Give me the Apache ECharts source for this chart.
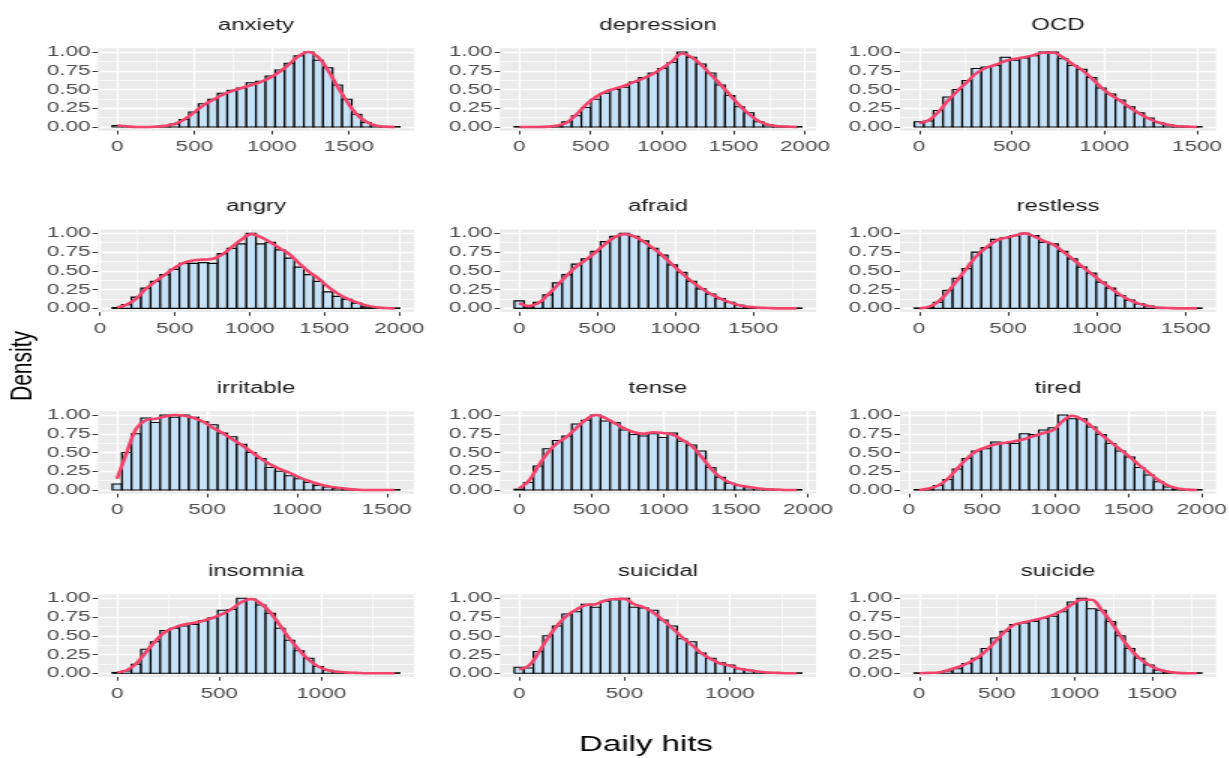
<!DOCTYPE html>
<html>
<head>
<meta charset="utf-8">
<script src="https://cdn.jsdelivr.net/npm/echarts@6/dist/echarts.min.js"></script>
<style>
  html, body { margin: 0; padding: 0; background: #fff; overflow: hidden; }
  #main { height: 758px; transform-origin: 0 0; }
</style>
</head>
<body>
<div id="main"></div>
<script>
// facet names, in reading order
const panels = ['anxiety', 'depression', 'OCD', 'angry', 'afraid', 'restless',
                'irritable', 'tense', 'tired', 'insomnia', 'suicidal', 'suicide'];

// centre of first bin and bin width (30 bins per facet)
const binStart = [0, 0, 0, 115, 0, 0, 0, 0, 70, 0, 0, 0];
const binWidth = [62, 67, 51.7, 64, 61.4, 53.9, 53.3, 66.3, 65.4, 46.9, 45.5, 61.7];

// x tick labels per facet
const xTicks = [
  [0, 500, 1000, 1500], [0, 500, 1000, 1500, 2000], [0, 500, 1000, 1500],
  [0, 500, 1000, 1500, 2000], [0, 500, 1000, 1500], [0, 500, 1000, 1500],
  [0, 500, 1000, 1500], [0, 500, 1000, 1500, 2000], [0, 500, 1000, 1500, 2000],
  [0, 500, 1000], [0, 500, 1000], [0, 500, 1000, 1500]
];
const yTicks = [0, 0.25, 0.5, 0.75, 1];

// scaled histogram heights
const anxietyHist = [0.02,0,0,0,0,0.01,0.04,0.1,0.2,0.31,0.37,0.45,0.49,0.52,0.59,0.61,0.68,0.76,0.85,0.95,1.0,0.89,0.79,0.56,0.37,0.17,0.06,0.02,0.005,0.005];
const depressionHist = [0.005,0,0,0,0.01,0.07,0.15,0.26,0.37,0.45,0.5,0.53,0.6,0.66,0.72,0.78,0.86,1.0,0.93,0.84,0.72,0.56,0.42,0.27,0.19,0.07,0.03,0.01,0.005,0.005];
const ocdHist = [0.07,0.08,0.22,0.4,0.5,0.62,0.78,0.8,0.82,0.93,0.89,0.92,0.95,1.0,1.0,0.91,0.82,0.77,0.66,0.52,0.44,0.36,0.27,0.19,0.12,0.06,0.03,0.01,0.005,0.005];
const angryHist = [0.01,0.05,0.15,0.27,0.36,0.45,0.52,0.6,0.6,0.61,0.6,0.73,0.8,0.86,1.0,0.86,0.88,0.78,0.67,0.55,0.45,0.36,0.22,0.16,0.12,0.07,0.02,0.01,0.005,0.005];
const afraidHist = [0.1,0.02,0.08,0.18,0.34,0.45,0.59,0.66,0.76,0.89,0.96,1.0,0.96,0.9,0.8,0.71,0.58,0.48,0.36,0.26,0.19,0.13,0.08,0.04,0.02,0.01,0.005,0.003,0.002,0.005];
const restlessHist = [0.005,0.01,0.08,0.24,0.4,0.53,0.75,0.81,0.92,0.94,0.97,1.0,0.97,0.88,0.86,0.76,0.66,0.55,0.47,0.35,0.27,0.17,0.11,0.06,0.03,0.01,0.005,0.003,0.002,0.005];
const irritableHist = [0.08,0.5,0.75,0.96,0.9,1.0,0.97,1.0,0.97,0.91,0.87,0.76,0.71,0.61,0.5,0.42,0.3,0.25,0.19,0.15,0.1,0.06,0.04,0.02,0.01,0.005,0.003,0.002,0.002,0.005];
const tenseHist = [0.01,0.1,0.32,0.55,0.66,0.72,0.88,0.93,1.0,0.92,0.9,0.8,0.74,0.72,0.75,0.7,0.76,0.65,0.6,0.52,0.3,0.17,0.09,0.06,0.03,0.02,0.01,0.005,0.003,0.005];
const tiredHist = [0.005,0.01,0.06,0.14,0.28,0.42,0.52,0.55,0.64,0.62,0.62,0.75,0.74,0.8,0.83,1.0,0.95,0.95,0.84,0.74,0.62,0.52,0.44,0.3,0.2,0.11,0.04,0.01,0.005,0.005];
const insomniaHist = [0.01,0.03,0.12,0.32,0.42,0.57,0.6,0.63,0.65,0.7,0.74,0.84,0.85,1.0,0.99,0.91,0.8,0.6,0.44,0.3,0.2,0.09,0.04,0.02,0.01,0.005,0.003,0.002,0.002,0.005];
const suicidalHist = [0.08,0.07,0.29,0.5,0.63,0.79,0.82,0.92,0.88,0.96,0.98,1.0,0.88,0.87,0.84,0.71,0.63,0.46,0.42,0.27,0.2,0.14,0.11,0.06,0.04,0.02,0.01,0.005,0.003,0.005];
const suicideHist = [0.005,0,0,0.03,0.06,0.13,0.2,0.33,0.47,0.56,0.65,0.67,0.69,0.73,0.76,0.82,0.95,1.0,0.86,0.84,0.69,0.5,0.33,0.2,0.11,0.04,0.01,0.005,0.003,0.005];

// scaled density at the bin centres
const anxietyDens = [0.02,0.01,0,0,0.005,0.015,0.04,0.1,0.19,0.29,0.36,0.43,0.48,0.52,0.56,0.6,0.66,0.74,0.84,0.95,1.0,0.93,0.76,0.54,0.34,0.17,0.07,0.02,0.005,0];
const depressionDens = [0,0,0,0.005,0.02,0.06,0.17,0.3,0.4,0.47,0.51,0.55,0.6,0.65,0.71,0.79,0.88,0.98,0.93,0.83,0.7,0.57,0.43,0.29,0.17,0.08,0.03,0.01,0.005,0];
const ocdDens = [0.05,0.09,0.2,0.35,0.48,0.6,0.72,0.79,0.83,0.88,0.91,0.93,0.96,0.99,0.99,0.93,0.84,0.76,0.65,0.53,0.43,0.35,0.26,0.18,0.11,0.06,0.03,0.01,0.005,0];
const angryDens = [0.01,0.05,0.13,0.26,0.36,0.45,0.54,0.61,0.64,0.65,0.66,0.72,0.82,0.92,0.99,0.95,0.88,0.8,0.72,0.6,0.49,0.4,0.29,0.2,0.13,0.08,0.04,0.015,0.005,0];
const afraidDens = [0.07,0.03,0.07,0.18,0.31,0.44,0.56,0.65,0.75,0.86,0.95,0.99,0.96,0.89,0.8,0.7,0.58,0.47,0.36,0.27,0.19,0.13,0.08,0.04,0.02,0.01,0.005,0,0,0];
const restlessDens = [0,0.02,0.09,0.22,0.38,0.54,0.7,0.81,0.9,0.94,0.97,1.0,0.96,0.9,0.85,0.76,0.66,0.56,0.46,0.36,0.27,0.18,0.11,0.06,0.03,0.01,0.005,0,0,0];
const irritableDens = [0.15,0.5,0.82,0.93,0.95,0.98,1.0,0.99,0.96,0.91,0.83,0.76,0.68,0.6,0.51,0.42,0.34,0.28,0.23,0.17,0.12,0.08,0.05,0.03,0.015,0.005,0,0,0,0];
const tenseDens = [0.02,0.12,0.32,0.5,0.63,0.71,0.83,0.94,1.0,0.96,0.89,0.82,0.77,0.75,0.77,0.76,0.74,0.67,0.59,0.45,0.29,0.17,0.1,0.06,0.04,0.02,0.01,0.005,0,0];
const tiredDens = [0,0.02,0.06,0.15,0.29,0.42,0.52,0.57,0.61,0.63,0.65,0.68,0.72,0.76,0.8,0.92,0.99,0.94,0.85,0.74,0.64,0.54,0.44,0.33,0.23,0.13,0.06,0.02,0.005,0];
const insomniaDens = [0.01,0.04,0.13,0.28,0.43,0.55,0.61,0.65,0.67,0.7,0.74,0.79,0.86,0.95,0.99,0.93,0.81,0.64,0.46,0.31,0.18,0.09,0.04,0.02,0.01,0.005,0,0,0,0];
const suicidalDens = [0.05,0.1,0.27,0.47,0.64,0.77,0.85,0.91,0.92,0.97,0.99,0.99,0.92,0.88,0.81,0.71,0.6,0.48,0.38,0.27,0.19,0.13,0.1,0.06,0.04,0.02,0.01,0.005,0,0];
const suicideDens = [0,0.005,0.01,0.04,0.08,0.13,0.2,0.3,0.43,0.56,0.65,0.68,0.71,0.74,0.78,0.84,0.92,0.98,0.98,0.85,0.69,0.5,0.33,0.2,0.11,0.05,0.02,0.005,0,0];

const hists = [anxietyHist, depressionHist, ocdHist, angryHist, afraidHist, restlessHist,
               irritableHist, tenseHist, tiredHist, insomniaHist, suicidalHist, suicideHist];
const dens = [anxietyDens, depressionDens, ocdDens, angryDens, afraidDens, restlessDens,
              irritableDens, tenseDens, tiredDens, insomniaDens, suicidalDens, suicideDens];

// the reference is stretched sideways, so draw narrow and scale the page in x
const S = 1.5;
const W = 1229 / S;
const el = document.getElementById('main');
el.style.width = W + 'px';
el.style.transform = 'scaleX(' + S + ')';

const FONT = '"Liberation Sans", Arial, sans-serif';
const colLeft = [98, 500, 900];
const rowTop = [48.25, 229.6, 411.25, 594.5];
const panelW = 316, panelH = 82.5;

const grid = [], xAxis = [], yAxis = [], series = [], graphic = [];

function renderBar(params, api) {
  const p0 = api.coord([api.value(0), api.value(2)]);
  const p1 = api.coord([api.value(1), 0]);
  return {
    type: 'rect',
    shape: { x: p0[0], y: p0[1], width: p1[0] - p0[0], height: p1[1] - p0[1] },
    style: { fill: '#C6E1F6', stroke: '#000', lineWidth: 1.2 }
  };
}

panels.forEach((name, i) => {
  const col = i % 3, row = Math.floor(i / 3);
  const c0 = binStart[i], w = binWidth[i];
  const lo = c0 - w / 2, hi = c0 + 29.5 * w;
  const pad = (hi - lo) * 0.05;
  const xmin = lo - pad, xmax = hi + pad;
  const ticks = xTicks[i];
  const minor = [];
  ticks.forEach(t => {
    if (t - 250 > xmin) minor.push(t - 250);
  });
  if (ticks[ticks.length - 1] + 250 < xmax) minor.push(ticks[ticks.length - 1] + 250);

  grid.push({
    left: colLeft[col] / S, top: rowTop[row], width: panelW / S, height: panelH,
    show: true, backgroundColor: '#EBEBEB', borderWidth: 0, outerBoundsMode: 'none'
  });

  xAxis.push({
    type: 'value', gridIndex: i, min: xmin, max: xmax, position: 'bottom',
    axisLine: { show: false, onZero: false },
    axisTick: { show: true, length: 3.7, customValues: ticks, lineStyle: { color: '#333', width: 1 } },
    axisLabel: { customValues: ticks, color: '#4D4D4D', fontSize: 15, fontFamily: FONT, margin: 9,
                 formatter: v => String(v) },
    splitLine: { show: true, lineStyle: { color: '#fff', width: 1.3 } }
  });
  xAxis.push({
    type: 'value', gridIndex: i, min: xmin, max: xmax, position: 'bottom',
    axisLine: { show: false, onZero: false },
    axisTick: { show: false, customValues: minor },
    axisLabel: { show: false },
    splitLine: { show: true, lineStyle: { color: '#fff', width: 0.65 } }
  });
  yAxis.push({
    type: 'value', gridIndex: i, min: -0.05, max: 1.05, position: 'left',
    axisLine: { show: false, onZero: false },
    axisTick: { show: true, length: 3.7, customValues: yTicks, lineStyle: { color: '#333', width: 1 } },
    axisLabel: { customValues: yTicks, color: '#4D4D4D', fontSize: 15, fontFamily: FONT, margin: 5,
                 formatter: v => v.toFixed(2) },
    splitLine: { show: true, lineStyle: { color: '#fff', width: 1.3 } }
  });
  yAxis.push({
    type: 'value', gridIndex: i, min: -0.05, max: 1.05, position: 'left',
    axisLine: { show: false, onZero: false },
    axisTick: { show: false, customValues: [0.125, 0.375, 0.625, 0.875] },
    axisLabel: { show: false },
    splitLine: { show: true, lineStyle: { color: '#fff', width: 0.65 } }
  });

  series.push({
    type: 'custom', xAxisIndex: 2 * i, yAxisIndex: 2 * i,
    renderItem: renderBar,
    encode: { x: [0, 1], y: 2 },
    data: hists[i].map((h, k) => [c0 + k * w - w / 2, c0 + k * w + w / 2, h]),
    z: 3
  });
  series.push({
    type: 'line', xAxisIndex: 2 * i, yAxisIndex: 2 * i,
    data: dens[i].map((d, k) => [c0 + k * w, d]),
    smooth: 0.4, symbol: 'none',
    lineStyle: { color: '#F4436C', width: 2.6 },
    z: 5
  });

  graphic.push({
    type: 'text', x: (colLeft[col] + panelW / 2) / S, y: rowTop[row] - 23,
    style: { text: name, fontSize: 16, fontFamily: FONT, fill: '#1A1A1A', align: 'center', verticalAlign: 'middle' }
  });
});

graphic.push({
  type: 'text', x: 23 / S, y: 366, rotation: Math.PI / 2,
  style: { text: 'Density', fontSize: 21, fontFamily: FONT, fill: '#000', align: 'center', verticalAlign: 'middle' }
});
graphic.push({
  type: 'text', x: 646 / S, y: 745,
  style: { text: 'Daily hits', fontSize: 22, fontFamily: FONT, fill: '#000', align: 'center', verticalAlign: 'middle' }
});

const chart = echarts.init(el);
chart.setOption({
  animation: false,
  backgroundColor: '#fff',
  grid: grid,
  xAxis: xAxis,
  yAxis: yAxis,
  series: series,
  graphic: graphic
});
</script>
</body>
</html>
